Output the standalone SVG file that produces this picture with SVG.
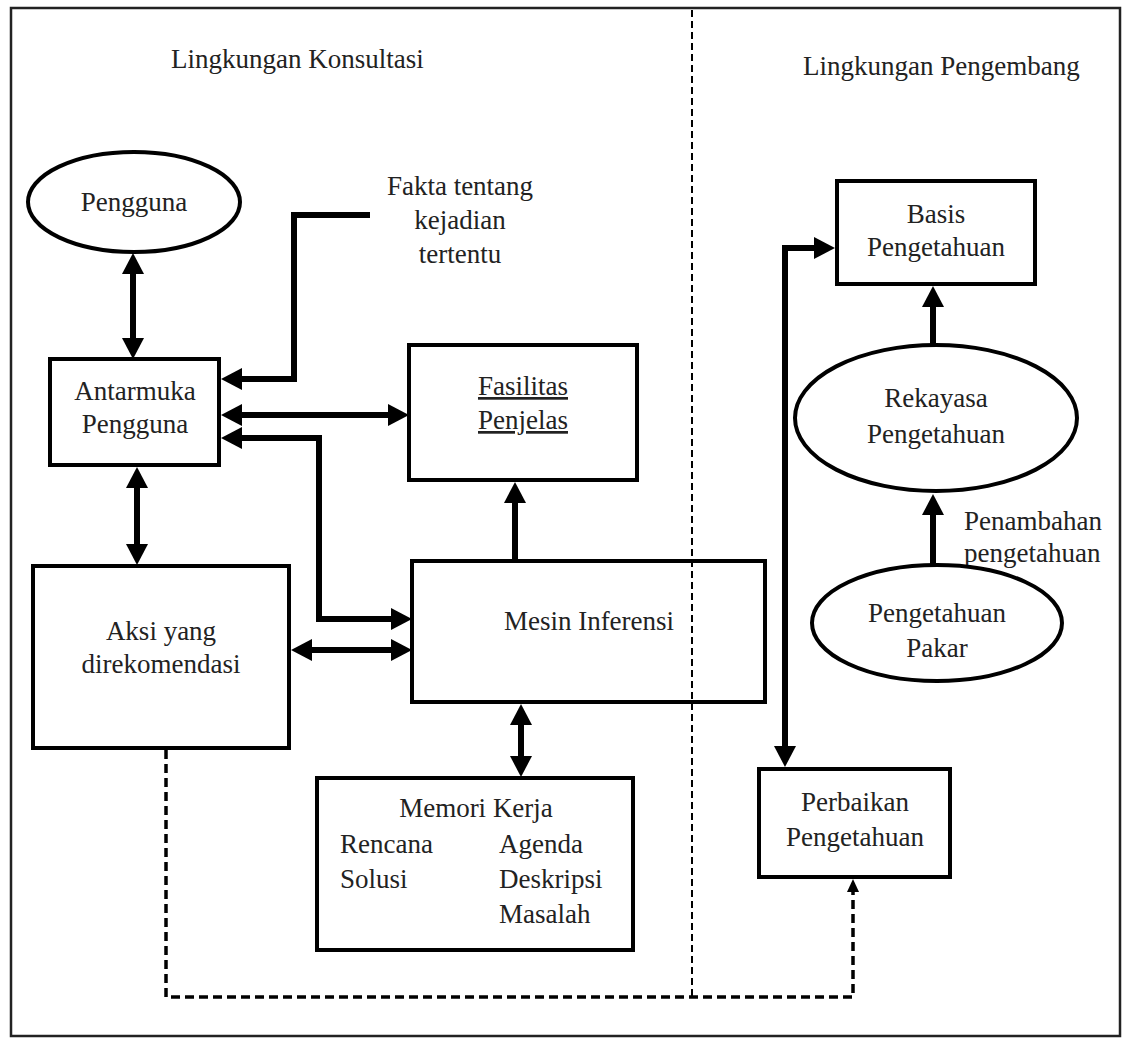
<svg xmlns="http://www.w3.org/2000/svg" width="1122" height="1038" viewBox="0 0 1122 1038">
<defs>
<style>
text{font-family:"Liberation Serif","Times New Roman",serif;font-size:27px;fill:#222}
.c{text-anchor:middle}
.box{fill:#fff;stroke:#000;stroke-width:4}
.conn{fill:none;stroke:#000;stroke-width:6;stroke-linejoin:miter}
.dash{fill:none;stroke:#000;stroke-width:3.5;stroke-dasharray:9 5}
.div{fill:none;stroke:#000;stroke-width:2;stroke-dasharray:7 4}
</style>
<marker id="ah" markerUnits="userSpaceOnUse" markerWidth="22" markerHeight="24" refX="0" refY="11" orient="auto-start-reverse" viewBox="0 0 22 22">
<path d="M0,0 L21,11 L0,22 z" fill="#000"/>
</marker>
<marker id="ahs" markerUnits="userSpaceOnUse" markerWidth="14" markerHeight="14" refX="0" refY="6" orient="auto" viewBox="0 0 14 12">
<path d="M0,0 L13,6 L0,12 z" fill="#000"/>
</marker>
</defs>
<rect x="0" y="0" width="1122" height="1038" fill="#fff"/>
<rect x="11" y="8" width="1109" height="1028" fill="none" stroke="#222" stroke-width="2.5"/>

<g id="labels">
<text x="171" y="68">Lingkungan Konsultasi</text>
<text x="803" y="75">Lingkungan Pengembang</text>
<text class="c" x="460" y="195">Fakta tentang</text>
<text class="c" x="460" y="229">kejadian</text>
<text class="c" x="460" y="263">tertentu</text>
<text x="964" y="530">Penambahan</text>
<text x="964" y="562">pengetahuan</text>
</g>

<g id="pengguna">
<ellipse class="box" cx="134" cy="202" rx="106" ry="50"/>
<text class="c" x="134" y="211">Pengguna</text>
</g>

<g id="antarmuka">
<rect class="box" x="50" y="359" width="169" height="106"/>
<text class="c" x="135" y="400">Antarmuka</text>
<text class="c" x="135" y="433">Pengguna</text>
</g>

<g id="fasilitas">
<rect class="box" x="409" y="345" width="228" height="135"/>
<text class="c" x="523" y="395" text-decoration="underline">Fasilitas</text>
<text class="c" x="523" y="429" text-decoration="underline">Penjelas</text>
</g>

<g id="aksi">
<rect class="box" x="33" y="566" width="256" height="182"/>
<text class="c" x="161" y="640">Aksi yang</text>
<text class="c" x="161" y="673">direkomendasi</text>
</g>

<g id="mesin">
<rect class="box" x="412" y="561" width="353" height="141"/>
<text class="c" x="589" y="630">Mesin Inferensi</text>
</g>

<g id="memori">
<rect class="box" x="317" y="778" width="316" height="172"/>
<text class="c" x="476" y="817">Memori Kerja</text>
<text x="340" y="853">Rencana</text>
<text x="340" y="888">Solusi</text>
<text x="499" y="853">Agenda</text>
<text x="499" y="888">Deskripsi</text>
<text x="499" y="923">Masalah</text>
</g>

<g id="basis">
<rect class="box" x="837" y="181" width="198" height="103"/>
<text class="c" x="936" y="223">Basis</text>
<text class="c" x="936" y="256">Pengetahuan</text>
</g>

<g id="rekayasa">
<ellipse class="box" cx="936" cy="418" rx="141" ry="73"/>
<text class="c" x="936" y="407">Rekayasa</text>
<text class="c" x="936" y="443">Pengetahuan</text>
</g>

<g id="pakar">
<ellipse class="box" cx="937" cy="623" rx="125" ry="58"/>
<text class="c" x="937" y="622">Pengetahuan</text>
<text class="c" x="937" y="657">Pakar</text>
</g>

<g id="perbaikan">
<rect class="box" x="759" y="769" width="191" height="108"/>
<text class="c" x="855" y="811">Perbaikan</text>
<text class="c" x="855" y="846">Pengetahuan</text>
</g>

<g id="connectors">
<line class="conn" x1="133" y1="274" x2="133" y2="338" marker-start="url(#ah)" marker-end="url(#ah)"/>
<line class="conn" x1="137" y1="488" x2="137" y2="544" marker-start="url(#ah)" marker-end="url(#ah)"/>
<path class="conn" d="M370,215 H294 V379 H242" marker-end="url(#ah)"/>
<line class="conn" x1="242" y1="415" x2="388" y2="415" marker-start="url(#ah)" marker-end="url(#ah)"/>
<path class="conn" d="M242,438 H319 V619 H391" marker-start="url(#ah)" marker-end="url(#ah)"/>
<line class="conn" x1="312" y1="650" x2="391" y2="650" marker-start="url(#ah)" marker-end="url(#ah)"/>
<line class="conn" x1="515" y1="561" x2="515" y2="503" marker-end="url(#ah)"/>
<line class="conn" x1="521" y1="725" x2="521" y2="756" marker-start="url(#ah)" marker-end="url(#ah)"/>
<line class="conn" x1="933" y1="345" x2="933" y2="307" marker-end="url(#ah)"/>
<line class="conn" x1="933" y1="565" x2="933" y2="515" marker-end="url(#ah)"/>
<path class="conn" d="M814,248 H785 V746" marker-start="url(#ah)" marker-end="url(#ah)"/>
<line class="div" x1="692" y1="10" x2="692" y2="997"/>
<path class="dash" d="M166,750 V997 H853 V892" marker-end="url(#ahs)"/>
</g>
</svg>
